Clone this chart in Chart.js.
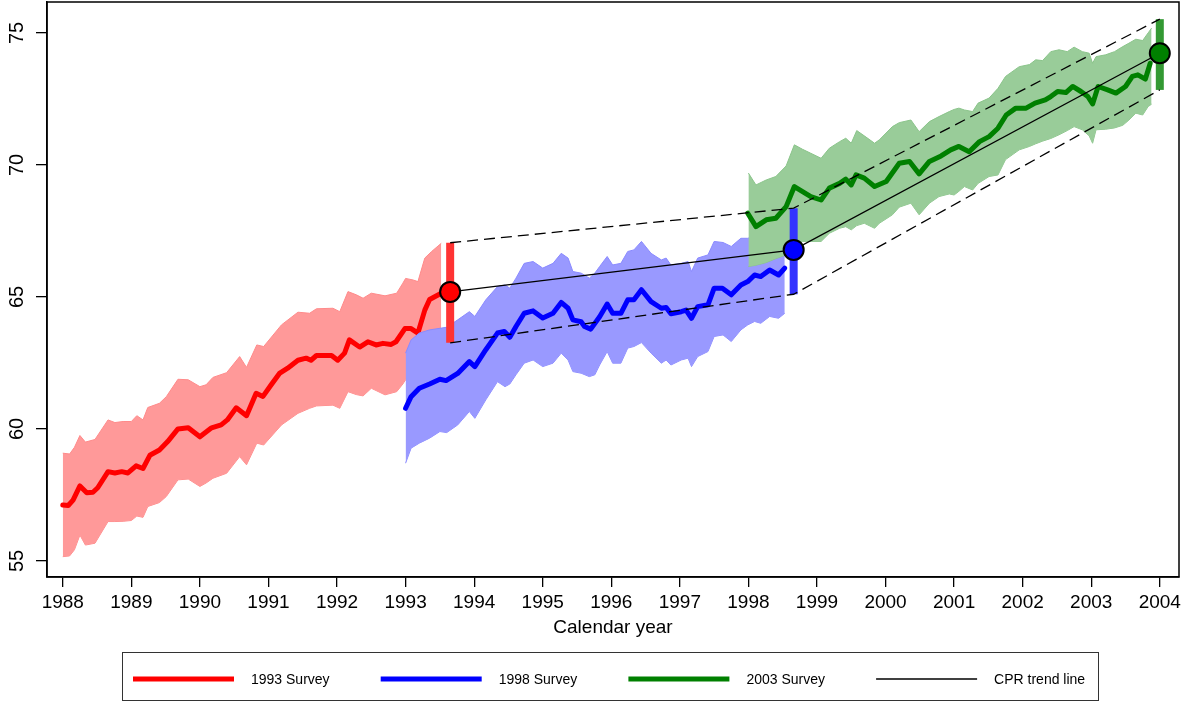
<!DOCTYPE html>
<html>
<head>
<meta charset="utf-8">
<script src="https://cdn.jsdelivr.net/npm/chart.js@4"></script>
<style>
  body { margin: 0; background: #fff; }
  canvas { display: block; }
</style>
</head>
<body>
<canvas id="cprChart" width="1184" height="702"></canvas>
<script>
const xTicks = [1988, 1989, 1990, 1991, 1992, 1993, 1994, 1995, 1996, 1997, 1998, 1999, 2000, 2001, 2002, 2003, 2004];
const yTicks = [55, 60, 65, 70, 75];

// 1993 survey
const redYears = [1988.0, 1988.08, 1988.15, 1988.25, 1988.35, 1988.44, 1988.51, 1988.66, 1988.76, 1988.86, 1988.95,
    1989.07, 1989.17, 1989.27, 1989.41, 1989.53, 1989.68, 1989.83, 1990.0, 1990.17, 1990.31, 1990.4, 1990.53,
    1990.68, 1990.82, 1990.92, 1991.04, 1991.16, 1991.28, 1991.43, 1991.55, 1991.62, 1991.7, 1991.92, 1992.01,
    1992.11, 1992.18, 1992.33, 1992.45, 1992.57, 1992.67, 1992.79, 1992.86, 1992.99, 1993.08, 1993.18, 1993.28,
    1993.35, 1993.52];
const redValues = [57.12, 57.1, 57.3, 57.84, 57.58, 57.6, 57.77, 58.38, 58.33, 58.38, 58.33,
    58.6, 58.5, 59.0, 59.2, 59.52, 60.0, 60.04, 59.7, 60.04, 60.15, 60.34, 60.8,
    60.5, 61.35, 61.23, 61.67, 62.1, 62.3, 62.6, 62.68, 62.6, 62.78, 62.78, 62.6,
    62.87, 63.37, 63.1, 63.3, 63.18, 63.24, 63.2, 63.3, 63.8, 63.8, 63.63, 64.5,
    64.9, 65.14];
const redBandYears = [1988.0, 1988.1, 1988.17, 1988.25, 1988.33, 1988.47, 1988.66, 1988.76, 1988.88, 1989.0,
    1989.08, 1989.17, 1989.24, 1989.41, 1989.51, 1989.68, 1989.83, 1990.0, 1990.09, 1990.19, 1990.39, 1990.58,
    1990.68, 1990.83, 1990.93, 1991.19, 1991.43, 1991.6, 1991.7, 1991.94, 1992.04, 1992.16, 1992.28, 1992.38,
    1992.5, 1992.7, 1992.87, 1992.96, 1993.0, 1993.11, 1993.18, 1993.28, 1993.38, 1993.52];
const redBandUpper = [59.08, 59.05, 59.3, 59.75, 59.5, 59.6, 60.34, 60.24, 60.28, 60.28,
    60.5, 60.34, 60.81, 60.97, 61.22, 61.88, 61.86, 61.6, 61.67, 61.95, 62.13, 62.74,
    62.33, 63.18, 63.12, 63.94, 64.42, 64.38, 64.55, 64.57, 64.44, 65.2, 65.08, 64.95,
    65.14, 65.04, 65.14, 65.52, 65.7, 65.64, 65.58, 66.47, 66.72, 67.03];
const redBandLower = [55.16, 55.19, 55.42, 55.98, 55.6, 55.67, 56.49, 56.49, 56.5, 56.53,
    56.7, 56.65, 57.06, 57.21, 57.44, 58.07, 58.1, 57.82, 57.95, 58.13, 58.32, 58.95,
    58.64, 59.46, 59.39, 60.15, 60.59, 60.78, 60.87, 60.9, 60.78, 61.41, 61.3, 61.25,
    61.54, 61.29, 61.41, 61.7, 61.86, 61.85, 61.8, 62.6, 62.9, 63.2];

// 1998 survey
const blueYears = [1993.0, 1993.08, 1993.2, 1993.35, 1993.5, 1993.59, 1993.76, 1993.93, 1994.01, 1994.17,
    1994.34, 1994.44, 1994.52, 1994.61, 1994.73, 1994.86, 1995.0, 1995.15, 1995.27, 1995.37, 1995.44,
    1995.56, 1995.61, 1995.7, 1995.83, 1995.94, 1996.02, 1996.14, 1996.24, 1996.33, 1996.44, 1996.58,
    1996.73, 1996.8, 1996.87, 1997.02, 1997.09, 1997.17, 1997.26, 1997.41, 1997.5, 1997.62, 1997.75,
    1997.89, 1997.99, 1998.09, 1998.18, 1998.31, 1998.44, 1998.53];
const blueValues = [60.78, 61.22, 61.54, 61.7, 61.88, 61.83, 62.1, 62.55, 62.36, 63.0,
    63.63, 63.69, 63.47, 63.88, 64.38, 64.47, 64.2, 64.38, 64.79, 64.57, 64.13,
    64.06, 63.88, 63.78, 64.25, 64.73, 64.38, 64.38, 64.89, 64.89, 65.27, 64.82,
    64.57, 64.6, 64.36, 64.44, 64.5, 64.19, 64.63, 64.7, 65.33, 65.33, 65.08,
    65.45, 65.58, 65.83, 65.77, 66.02, 65.83, 66.09];
const blueBandYears = [1993.0, 1993.08, 1993.2, 1993.35, 1993.5, 1993.6, 1993.76, 1993.93, 1994.01, 1994.17,
    1994.34, 1994.45, 1994.52, 1994.61, 1994.73, 1994.86, 1995.0, 1995.15, 1995.27, 1995.37, 1995.44,
    1995.56, 1995.68, 1995.76, 1995.83, 1995.94, 1996.02, 1996.14, 1996.24, 1996.33, 1996.44, 1996.58,
    1996.73, 1996.8, 1996.87, 1997.02, 1997.12, 1997.17, 1997.26, 1997.41, 1997.5, 1997.63, 1997.75,
    1997.89, 1997.99, 1998.09, 1998.18, 1998.31, 1998.44, 1998.53];
const blueBandUpper = [62.87, 63.37, 63.63, 63.75, 63.81, 63.85, 64.13, 64.44, 64.26, 64.89,
    65.39, 65.45, 65.33, 65.71, 66.27, 66.34, 66.09, 66.27, 66.65, 66.47, 65.96,
    65.9, 65.71, 65.9, 66.15, 66.53, 66.21, 66.27, 66.72, 66.78, 67.1, 66.65,
    66.4, 66.47, 66.21, 66.27, 66.34, 65.96, 66.47, 66.59, 67.1, 67.06, 66.91,
    67.22, 67.22, 67.3, 67.3, 67.3, 67.3, 67.22];
const blueBandLower = [58.7, 59.27, 59.46, 59.65, 59.9, 59.86, 60.15, 60.66, 60.4, 61.1,
    61.79, 61.6, 61.7, 62.05, 62.49, 62.61, 62.36, 62.49, 62.87, 62.61, 62.17,
    62.11, 61.98, 62.05, 62.42, 62.93, 62.49, 62.49, 63.06, 63.12, 63.27, 62.87,
    62.49, 62.61, 62.42, 62.61, 62.68, 62.36, 62.74, 62.93, 63.5, 63.56, 63.31,
    63.75, 63.94, 64.07, 64.0, 64.26, 64.19, 64.38];

// 2003 survey
const greenYears = [1997.99, 1998.11, 1998.26, 1998.4, 1998.55, 1998.67, 1998.79, 1998.91, 1999.06, 1999.18,
    1999.33, 1999.42, 1999.5, 1999.57, 1999.69, 1999.84, 2000.01, 2000.2, 2000.35, 2000.49, 2000.64,
    2000.81, 2000.95, 2001.07, 2001.22, 2001.37, 2001.51, 2001.64, 2001.76, 2001.9, 2002.05, 2002.18,
    2002.33, 2002.41, 2002.51, 2002.63, 2002.73, 2002.85, 2002.95, 2003.02, 2003.1, 2003.24, 2003.36,
    2003.5, 2003.6, 2003.68, 2003.79, 2003.86];
const greenValues = [68.17, 67.66, 67.92, 67.98, 68.42, 69.18, 68.99, 68.8, 68.67, 69.12,
    69.3, 69.46, 69.24, 69.62, 69.5, 69.18, 69.37, 70.06, 70.13, 69.66, 70.13,
    70.34, 70.57, 70.7, 70.5, 70.88, 71.07, 71.39, 71.89, 72.15, 72.15, 72.34,
    72.46, 72.59, 72.78, 72.74, 72.97, 72.78, 72.59, 72.31, 72.97, 72.84, 72.72,
    72.97, 73.35, 73.41, 73.25, 73.85];
const greenBandYears = [1998.0, 1998.11, 1998.26, 1998.4, 1998.55, 1998.67, 1998.79, 1998.91, 1999.06, 1999.18,
    1999.33, 1999.42, 1999.5, 1999.58, 1999.69, 1999.84, 1999.91, 2000.1, 2000.2, 2000.37, 2000.49,
    2000.64, 2000.78, 2000.93, 2001.0, 2001.07, 2001.15, 2001.27, 2001.35, 2001.51, 2001.64, 2001.75,
    2001.95, 2002.1, 2002.19, 2002.29, 2002.41, 2002.53, 2002.65, 2002.75, 2002.87, 2002.97, 2003.02,
    2003.07, 2003.21, 2003.34, 2003.46, 2003.55, 2003.65, 2003.75, 2003.83, 2003.88];
const greenBandUpper = [69.69, 69.24, 69.43, 69.56, 69.96, 70.76, 70.59, 70.44, 70.25, 70.63,
    70.88, 71.01, 70.82, 71.3, 71.1, 70.82, 70.95, 71.45, 71.6, 71.7, 71.26,
    71.64, 71.83, 72.02, 72.1, 72.15, 72.08, 72.02, 72.34, 72.53, 72.9, 73.35,
    73.72, 73.8, 73.98, 73.95, 74.29, 74.36, 74.29, 74.46, 74.29, 74.23, 73.85,
    74.1, 74.17, 74.29, 74.48, 74.61, 74.76, 74.71, 75.0, 75.18];
const greenBandLower = [66.15, 66.2, 66.3, 66.45, 66.59, 66.9, 67.1, 67.1, 67.1, 67.41,
    67.6, 67.66, 67.54, 67.7, 67.79, 67.6, 67.79, 68.11, 68.4, 68.55, 68.11,
    68.55, 68.8, 68.9, 68.86, 69.0, 69.18, 69.05, 69.3, 69.56, 69.62, 70.2,
    70.57, 70.7, 70.8, 70.9, 71.0, 71.14, 71.3, 71.45, 71.33, 71.1, 70.82,
    71.33, 71.35, 71.4, 71.5, 71.7, 71.96, 71.89, 72.21, 72.3];

// survey point estimates with their intervals (CPR trend line)
const surveyYears = [1993.65, 1998.66, 2004.0];
const surveyValues = [65.19, 66.78, 74.23];
const surveyLow = [63.26, 65.1, 72.84];
const surveyHigh = [67.05, 68.36, 75.52];

const legendLabels = ['1993 Survey', '1998 Survey', '2003 Survey', 'CPR trend line'];

const FONT = '"Liberation Sans", Arial, Helvetica, sans-serif';
const pts = (xs, ys) => xs.map((x, i) => ({ x: x, y: ys[i] }));

const lineColors = ['#ff0000', '#0000ff', '#008000'];
const bandColors = ['#ff9999', '#9999ff', '#99cc99'];
const bandEdges = ['#ff8a8a', '#8a8aff', '#8ac48a'];
const barColors = ['#ff3333', '#3333ff', '#339933'];

const series = [
    { years: redYears, values: redValues, bandYears: redBandYears, upper: redBandUpper, lower: redBandLower },
    { years: blueYears, values: blueValues, bandYears: blueBandYears, upper: blueBandUpper, lower: blueBandLower },
    { years: greenYears, values: greenValues, bandYears: greenBandYears, upper: greenBandUpper, lower: greenBandLower }
];

const datasets = [];
series.forEach((s, k) => {
    // lower order = drawn on top
    const bandOrder = 20 - k * 3;
    const lowerIndex = datasets.length + 1;
    datasets.push({
        data: pts(s.bandYears, s.upper),
        borderColor: bandEdges[k], borderWidth: 1,
        backgroundColor: bandColors[k],
        fill: lowerIndex,
        pointRadius: 0, order: bandOrder
    });
    datasets.push({
        data: pts(s.bandYears, s.lower),
        borderColor: bandEdges[k], borderWidth: 1,
        fill: false, pointRadius: 0, order: bandOrder
    });
    datasets.push({
        data: pts(s.years, s.values),
        borderColor: lineColors[k], borderWidth: 5,
        borderJoinStyle: 'round', borderCapStyle: 'round',
        fill: false, pointRadius: 0, order: bandOrder - 1
    });
});

surveyYears.forEach((yr, k) => {
    datasets.push({
        data: [{ x: yr, y: surveyLow[k] }, { x: yr, y: surveyHigh[k] }],
        borderColor: barColors[k], borderWidth: 8, borderCapStyle: 'butt',
        fill: false, pointRadius: 0, order: 4
    });
});

datasets.push({
    data: pts(surveyYears, surveyHigh),
    borderColor: '#000', borderWidth: 1.3, borderDash: [11, 6],
    fill: false, pointRadius: 0, order: 3
});
datasets.push({
    data: pts(surveyYears, surveyLow),
    borderColor: '#000', borderWidth: 1.3, borderDash: [11, 6],
    fill: false, pointRadius: 0, order: 3
});
datasets.push({
    data: pts(surveyYears, surveyValues),
    borderColor: '#000', borderWidth: 1.3,
    fill: false, pointRadius: 0, order: 2
});
datasets.push({
    data: pts(surveyYears, surveyValues),
    showLine: false,
    pointRadius: 10, pointBorderWidth: 2, pointBorderColor: '#000',
    pointBackgroundColor: lineColors,
    order: 1
});

// frame, rotated y labels and the boxed legend
const decorations = {
    id: 'decorations',
    afterDraw(chart) {
        const { ctx, chartArea: a } = chart;
        const y = chart.scales.y;
        ctx.save();
        ctx.strokeStyle = '#000';
        ctx.lineWidth = 1.5;
        ctx.strokeRect(a.left, a.top, a.right - a.left, a.bottom - a.top);

        ctx.fillStyle = '#000';
        ctx.font = '20px ' + FONT;
        ctx.textAlign = 'center';
        ctx.textBaseline = 'middle';
        yTicks.forEach(v => {
            ctx.save();
            ctx.translate(17, y.getPixelForValue(v));
            ctx.rotate(-Math.PI / 2);
            ctx.fillText(String(v), 0, 0);
            ctx.restore();
        });

        // legend
        ctx.lineWidth = 1;
        ctx.strokeStyle = '#333';
        ctx.strokeRect(122.5, 652.5, 976, 48);
        ctx.font = '14px ' + FONT;
        ctx.textAlign = 'left';
        const legendColors = lineColors.concat(['#000']);
        legendLabels.forEach((lbl, i) => {
            const x0 = 133 + i * 247.7;
            ctx.beginPath();
            ctx.strokeStyle = legendColors[i];
            ctx.lineWidth = i < 3 ? 5 : 1.3;
            ctx.moveTo(x0, 679);
            ctx.lineTo(x0 + 101, 679);
            ctx.stroke();
            ctx.fillStyle = '#000';
            ctx.fillText(lbl, x0 + 118, 680);
        });
        ctx.restore();
    }
};

new Chart(document.getElementById('cprChart').getContext('2d'), {
    type: 'line',
    data: { datasets: datasets },
    options: {
        responsive: false,
        animation: false,
        devicePixelRatio: 1,
        layout: { autoPadding: false, padding: { top: 2, right: 5, bottom: 63, left: 0 } },
        plugins: {
            legend: { display: false },
            tooltip: { enabled: false }
        },
        elements: { line: { tension: 0 } },
        scales: {
            x: {
                type: 'linear',
                min: 1987.77,
                max: 2004.28,
                afterBuildTicks: (scale) => { scale.ticks = xTicks.map(v => ({ value: v })); },
                afterFit: (scale) => {
                    scale.height = 62;
                    scale.paddingLeft = 0; scale.paddingRight = 0;
                },
                grid: { drawOnChartArea: false, drawTicks: true, tickLength: 10, color: '#000', lineWidth: 1.3 },
                border: { display: true, color: '#000', width: 1.5 },
                ticks: {
                    color: '#000', padding: 4, maxRotation: 0, autoSkip: false,
                    font: { family: FONT, size: 19 },
                    callback: (v) => String(v)
                },
                title: {
                    display: true, text: 'Calendar year', color: '#000',
                    font: { family: FONT, size: 19 }, padding: 0
                }
            },
            y: {
                type: 'linear',
                min: 54.39,
                max: 76.17,
                afterBuildTicks: (scale) => { scale.ticks = yTicks.map(v => ({ value: v })); },
                afterFit: (scale) => {
                    scale.width = 47;
                    scale.paddingTop = 0; scale.paddingBottom = 0;
                },
                grid: { drawOnChartArea: false, drawTicks: true, tickLength: 11, color: '#000', lineWidth: 1.3 },
                border: { display: true, color: '#000', width: 1.5 },
                ticks: { display: false }
            }
        }
    },
    plugins: [decorations]
});
</script>
</body>
</html>
